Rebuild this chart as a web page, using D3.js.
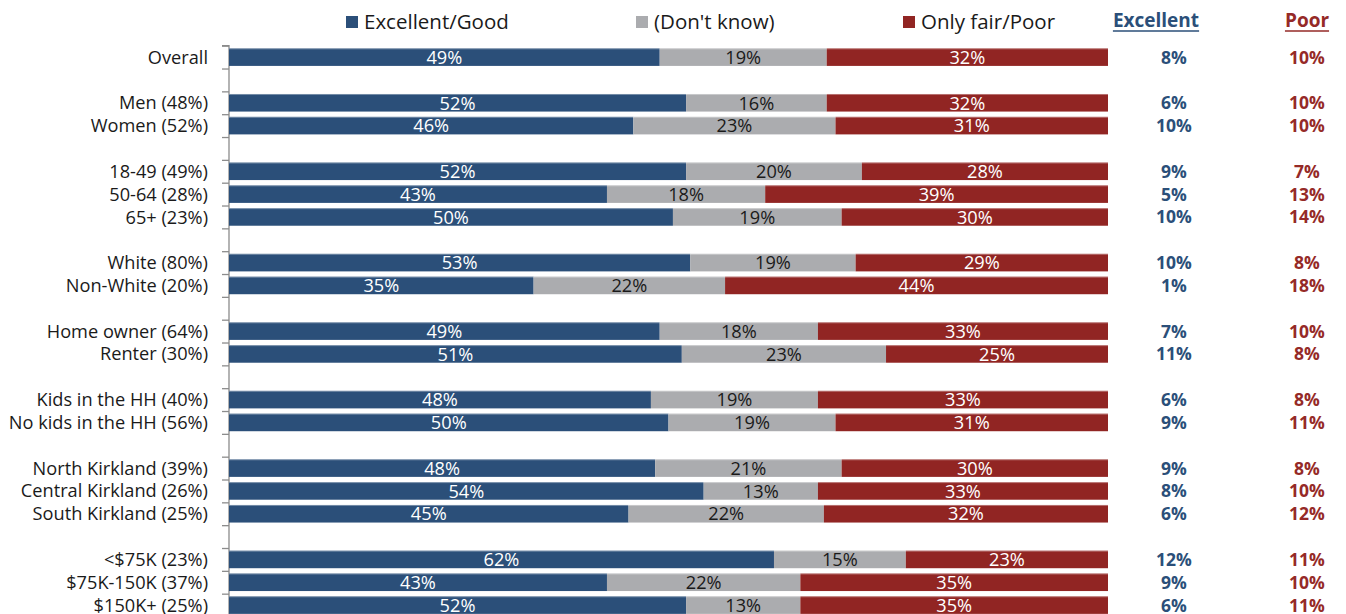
<!DOCTYPE html>
<html>
<head>
<meta charset="utf-8">
<script src="https://cdn.jsdelivr.net/npm/d3@7"></script>
<style>
  html, body { margin: 0; padding: 0; background: #fff; }
  svg { display: block; font-family: "Open Sans", "Noto Sans", sans-serif; }
</style>
</head>
<body>
<svg id="chart" width="1346" height="614"></svg>
<script>
// Survey groups (null marks the spacer rows between groups)
const categories = [
  "Overall", null,
  "Men (48%)", "Women (52%)", null,
  "18-49 (49%)", "50-64 (28%)", "65+ (23%)", null,
  "White (80%)", "Non-White (20%)", null,
  "Home owner (64%)", "Renter (30%)", null,
  "Kids in the HH (40%)", "No kids in the HH (56%)", null,
  "North Kirkland (39%)", "Central Kirkland (26%)", "South Kirkland (25%)", null,
  "<$75K (23%)", "$75K-150K (37%)", "$150K+ (25%)"
];
const excellentGood = [49, 52, 46, 52, 43, 50, 53, 35, 49, 51, 48, 50, 48, 54, 45, 62, 43, 52];
const dontKnow      = [19, 16, 23, 20, 18, 19, 19, 22, 18, 23, 19, 19, 21, 13, 22, 15, 22, 13];
const fairPoor      = [32, 32, 31, 28, 39, 30, 29, 44, 33, 25, 33, 31, 30, 33, 32, 23, 35, 35];
const excellentOnly = [8, 6, 10, 9, 5, 10, 10, 1, 7, 11, 6, 9, 9, 8, 6, 12, 9, 6];
const poorOnly      = [10, 10, 10, 7, 13, 14, 8, 18, 10, 8, 8, 11, 8, 10, 12, 11, 10, 11];
const seriesNames = ["Excellent/Good", "(Don't know)", "Only fair/Poor"];

const colors = ["#2b4f79", "#abacaf", "#912523"];
const textColors = ["#ffffff", "#1a1a1a", "#ffffff"];

// Build the row table from the arrays above
const rowKeys = categories.map((c, i) => c === null ? "gap" + i : c);
const labelled = categories.filter(c => c !== null);
const rows = labelled.map((name, i) => ({
  name,
  values: [excellentGood[i], dontKnow[i], fairPoor[i]],
  exc: excellentOnly[i],
  poor: poorOnly[i]
}));

const svg = d3.select("#chart");
const plotTop = 45.7, plotBottom = 616.5, plotLeft = 229, plotRight = 1108;

const y = d3.scaleBand().domain(rowKeys).range([plotTop, plotBottom])
  .paddingInner(0.23).paddingOuter(0.115);
const x = d3.scaleLinear().domain([0, 1]).range([plotLeft, plotRight]);

// Axis with ticks on row boundaries
const yEdges = d3.scaleLinear().domain([0, rowKeys.length]).range([plotTop, plotBottom]);
svg.append("g")
  .attr("transform", `translate(${plotLeft},0)`)
  .call(d3.axisLeft(yEdges).tickValues(d3.range(0, rowKeys.length + 1)).tickSize(7).tickFormat(""))
  .call(g => g.selectAll("path, line").attr("stroke", "#8c8c8c").attr("stroke-width", 1.3))
  .call(g => g.select(".domain").attr("d", `M-7,${plotTop}H0V${plotBottom}H-7`));

// Category labels
svg.append("g")
  .attr("transform", `translate(${plotLeft - 21},0)`)
  .call(d3.axisLeft(y).tickValues(labelled).tickSize(0).tickPadding(0))
  .call(g => g.select(".domain").remove())
  .call(g => g.selectAll("text")
    .attr("font-family", "'Open Sans', sans-serif")
    .attr("font-size", 18.2)
    .attr("fill", "#1a1a1a")
    .attr("dy", "0.36em"));

// Stacked, normalised bars
const segs = [];
rows.forEach(r => {
  const total = d3.sum(r.values);
  let acc = 0;
  r.values.forEach((v, k) => {
    segs.push({ name: r.name, k, v, x0: acc / total, x1: (acc + v) / total });
    acc += v;
  });
});

const bars = svg.append("g");
bars.selectAll("rect")
  .data(segs)
  .join("rect")
  .attr("x", d => x(d.x0))
  .attr("y", d => y(d.name))
  .attr("width", d => x(d.x1) - x(d.x0))
  .attr("height", y.bandwidth())
  .attr("fill", d => colors[d.k]);

bars.selectAll("line.edge")
  .data(rows)
  .join("line")
  .attr("class", "edge")
  .attr("x1", x(0)).attr("x2", x(1))
  .attr("y1", d => y(d.name) + 0.5).attr("y2", d => y(d.name) + 0.5)
  .attr("stroke", "#ffffff").attr("stroke-opacity", 0.35);

bars.selectAll("text")
  .data(segs)
  .join("text")
  .attr("x", d => (x(d.x0) + x(d.x1)) / 2)
  .attr("y", d => y(d.name) + y.bandwidth() / 2)
  .attr("dy", "0.37em")
  .attr("text-anchor", "middle")
  .attr("font-size", 18.2)
  .attr("fill", d => textColors[d.k])
  .text(d => d.v + "%");

// Right-hand summary columns
const colExc = 1174, colPoor = 1307;
const side = svg.append("g").attr("font-weight", "bold").attr("font-size", 17.5).attr("text-anchor", "middle");
side.selectAll("text.exc")
  .data(rows).join("text").attr("class", "exc")
  .attr("x", colExc)
  .attr("y", d => y(d.name) + y.bandwidth() / 2).attr("dy", "0.37em")
  .attr("fill", "#2b4f79")
  .text(d => d.exc + "%");
side.selectAll("text.poor")
  .data(rows).join("text").attr("class", "poor")
  .attr("x", colPoor)
  .attr("y", d => y(d.name) + y.bandwidth() / 2).attr("dy", "0.37em")
  .attr("fill", "#952a27")
  .text(d => d.poor + "%");

// Column headers, underlined
const headers = [
  { text: "Excellent", cx: 1156, color: "#2b4f79" },
  { text: "Poor", cx: 1307, color: "#952a27" }
];
headers.forEach(h => {
  const t = svg.append("text")
    .attr("x", h.cx).attr("y", 27)
    .attr("text-anchor", "middle")
    .attr("font-weight", "bold").attr("font-size", 19)
    .attr("fill", h.color)
    .text(h.text);
  const w = t.node().getComputedTextLength();
  svg.append("line")
    .attr("x1", h.cx - w / 2).attr("x2", h.cx + w / 2)
    .attr("y1", 31).attr("y2", 31)
    .attr("stroke", h.color).attr("stroke-width", 1.5);
});

// Legend
const legendX = [346, 636, 903];
const legend = svg.append("g");
seriesNames.forEach((name, k) => {
  legend.append("rect")
    .attr("x", legendX[k]).attr("y", 16)
    .attr("width", 12).attr("height", 12)
    .attr("fill", colors[k]);
  legend.append("text")
    .attr("x", legendX[k] + 18).attr("y", 22).attr("dy", "0.36em")
    .attr("font-size", 20.5).attr("fill", "#1a1a1a")
    .text(name);
});
</script>
</body>
</html>
